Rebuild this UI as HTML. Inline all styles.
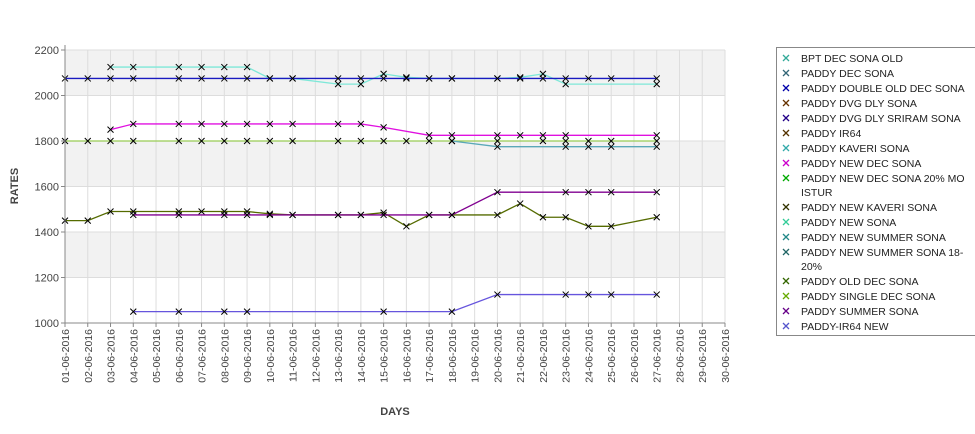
<!DOCTYPE html>
<html><head><meta charset="utf-8"><style>
body{margin:0;background:#fff;font-family:"Liberation Sans",sans-serif}
svg text{font-family:"Liberation Sans",sans-serif}
</style></head><body>
<svg id="c" width="975" height="429">
<g id="grid"></g><g id="series"></g><g id="axes"></g>
<text x="18" y="186" font-size="11" font-weight="bold" fill="#444" transform="rotate(-90 18 186)" text-anchor="middle">RATES</text>
<text x="395" y="415" font-size="11" font-weight="bold" fill="#444" text-anchor="middle">DAYS</text>
<g id="legend"></g>
</svg>
<script>
const days=[];for(let d=1;d<=30;d++)days.push((d<10?'0':'')+d+'-06-2016');
const yTicks=[1000,1200,1400,1600,1800,2000,2200];
const legendNames=["BPT DEC SONA OLD","PADDY DEC SONA","PADDY DOUBLE OLD DEC SONA","PADDY DVG DLY SONA","PADDY DVG DLY SRIRAM SONA","PADDY IR64","PADDY KAVERI SONA","PADDY NEW DEC SONA","PADDY NEW DEC SONA 20% MO|ISTUR","PADDY NEW KAVERI SONA","PADDY NEW SONA","PADDY NEW SUMMER SONA","PADDY NEW SUMMER SONA 18-|20%","PADDY OLD DEC SONA","PADDY SINGLE DEC SONA","PADDY SUMMER SONA","PADDY-IR64 NEW"];
const legendColors=["#3a9","#367","#00a","#630","#208","#530","#3aa","#c0c","#0a0","#330","#3c9","#288","#266","#360","#6a0","#608","#55c"];
const blueDays=[1,2,3,4,6,7,8,9,10,11,13,14,15,16,17,18,20,21,22,23,24,25,27];
const blueVals=[2075,2075,2075,2075,2075,2075,2075,2075,2075,2075,2075,2075,2075,2075,2075,2075,2075,2075,2075,2075,2075,2075,2075];
const cyanDays=[3,4,6,7,8,9,10,11,13,14,15,16,17,18,20,21,22,23,27];
const cyanVals=[2125,2125,2125,2125,2125,2125,2075,2075,2050,2050,2095,2080,2075,2075,2075,2080,2095,2050,2050];
const magDays=[3,4,6,7,8,9,10,11,13,14,15,17,18,20,21,22,23,27];
const magVals=[1850,1875,1875,1875,1875,1875,1875,1875,1875,1875,1860,1825,1825,1825,1825,1825,1825,1825];
const lgDays=[1,2,3,4,6,7,8,9,10,11,13,14,15,16,17,18,20,22,23,24,25,27];
const lgVals=[1800,1800,1800,1800,1800,1800,1800,1800,1800,1800,1800,1800,1800,1800,1800,1800,1800,1800,1800,1800,1800,1800];
const tealDays=[18,20,23,24,25,27];
const tealVals=[1800,1775,1775,1775,1775,1775];
const oliveDays=[1,2,3,4,6,7,8,9,10,11,13,14,15,16,17,18,20,21,22,23,24,25,27];
const oliveVals=[1450,1450,1490,1490,1490,1490,1490,1490,1480,1475,1475,1475,1485,1425,1475,1475,1475,1525,1465,1465,1425,1425,1465];
const purpDays=[4,6,8,9,10,11,13,14,15,17,18,20,23,24,25,27];
const purpVals=[1475,1475,1475,1475,1475,1475,1475,1475,1475,1475,1475,1575,1575,1575,1575,1575];
const irDays=[4,6,8,9,15,18,20,23,24,25,27];
const irVals=[1050,1050,1050,1050,1050,1050,1125,1125,1125,1125,1125];
const seriesList=[
 {n:'lightgreen-1800',d:lgDays,v:lgVals,c:'#9c5'},
 {n:'kaveri-sona',d:tealDays,v:tealVals,c:'#5aa8b8'},
 {n:'bpt-dec-sona-old',d:cyanDays,v:cyanVals,c:'#7ee8d8'},
 {n:'dvg-dly-sriram-sona',d:blueDays,v:blueVals,c:'#1a1ac0'},
 {n:'new-dec-sona',d:magDays,v:magVals,c:'#e010e0'},
 {n:'single-dec-sona',d:oliveDays,v:oliveVals,c:'#556b00'},
 {n:'summer-sona',d:purpDays,v:purpVals,c:'#800090'},
 {n:'ir64-new',d:irDays,v:irVals,c:'#6655dd'}];
const X0=65,X1=725,Y0=323,Y1=50;
const xs=d=>X0+(d-1)*(X1-X0)/29;
const ys=v=>Y0-(v-1000)*(Y0-Y1)/1200;
const NS='http://www.w3.org/2000/svg';
function mk(t,a,p){const e=document.createElementNS(NS,t);for(const k in a)e.setAttribute(k,a[k]);p.appendChild(e);return e;}
const g=document.getElementById('grid');
for(let i=0;i<yTicks.length-1;i++){if(i%2==0)continue;
 const r=mk('rect',{x:X0,y:ys(yTicks[i+1]),width:X1-X0,height:ys(yTicks[i])-ys(yTicks[i+1]),fill:'#f2f2f2'},g);
 
 }
yTicks.forEach(t=>{const l=mk('line',{x1:X0,x2:X1,y1:ys(t),y2:ys(t),stroke:'#ddd'},g);
 
 });
days.forEach((s,i)=>{const l=mk('line',{x1:xs(i+1),x2:xs(i+1),y1:Y1,y2:Y0,stroke:'#ddd'},g);
 
 });
const ax=document.getElementById('axes');
mk('line',{x1:X0,x2:X0,y1:Y1-5,y2:Y0,stroke:'#888'},ax);
mk('line',{x1:X0,x2:X1,y1:Y0,y2:Y0,stroke:'#888'},ax);
yTicks.forEach(t=>{mk('line',{x1:X0-4,x2:X0,y1:ys(t),y2:ys(t),stroke:'#888'},ax);
 const tx=mk('text',{x:X0-6,y:ys(t)+4,'font-size':11,'text-anchor':'end',fill:'#444'},ax);tx.textContent=t;
 
 });
days.forEach((s,i)=>{const x=xs(i+1);mk('line',{x1:x,x2:x,y1:Y0,y2:Y0+4,stroke:'#888'},ax);
 const tx=mk('text',{x:x+4,y:Y0+6,'font-size':10.5,'text-anchor':'end',fill:'#444',transform:`rotate(-90 ${x+4} ${Y0+6})`},ax);tx.textContent=s;
 
 });
const sg=document.getElementById('series');
seriesList.forEach(s=>{const gg=mk('g',{},sg);
 
 
 mk('polyline',{points:s.d.map((d,i)=>xs(d)+','+ys(s.v[i])).join(' '),fill:'none',stroke:s.c,'stroke-width':1.3},gg);
 s.d.forEach((d,i)=>{const x=xs(d),y=ys(s.v[i]);
  mk('path',{d:`M${x-3} ${y-3}L${x+3} ${y+3}M${x-3} ${y+3}L${x+3} ${y-3}`,stroke:'#000','stroke-width':1},gg);});});
const lg=document.getElementById('legend');
mk('rect',{x:776.5,y:47.5,width:205,height:288,fill:'#fff',stroke:'#888'},lg);
let yy=58;
legendNames.forEach((n,i)=>{const parts=n.split('|');
 const e=mk('g',{},lg);
 
 
 mk('path',{d:`M783 ${yy-3}L789 ${yy+3}M783 ${yy+3}L789 ${yy-3}`,stroke:legendColors[i],'stroke-width':1.3},e);
 parts.forEach((p,j)=>{const t=mk('text',{x:801,y:yy+4+j*14,'font-size':10.5,fill:'#222'},e);t.textContent=p;});
 yy+=parts.length>1?29:15;});
</script>
</body></html>
